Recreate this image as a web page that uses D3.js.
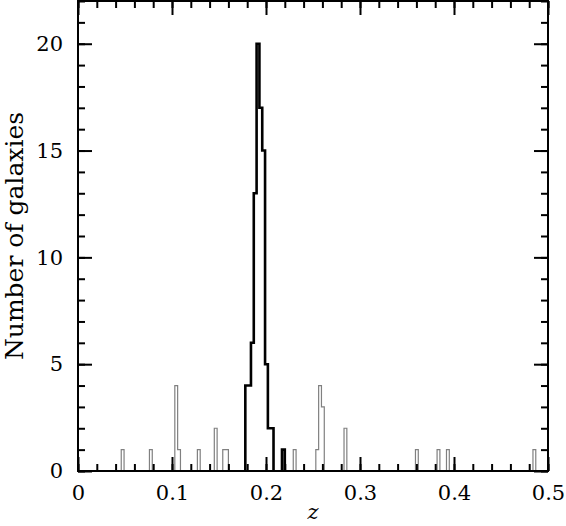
<!DOCTYPE html>
<html>
<head>
<meta charset="utf-8">
<script src="https://cdn.jsdelivr.net/npm/d3@7"></script>
<style>
  body { margin: 0; background: #fff; }
</style>
</head>
<body>
<div id="chart"></div>
<script>
// histogram data (bin left edges in z, counts)
var binWidth = 0.003;
var clusterBinStart = [0.178, 0.181, 0.184, 0.187, 0.190, 0.193, 0.196, 0.199, 0.202, 0.205, 0.217];
var clusterCounts   = [4, 4, 6, 13, 20, 17, 15, 5, 2, 2, 1];
var fieldBinStart = [0.046, 0.076, 0.103, 0.106, 0.127, 0.145, 0.154, 0.157, 0.229,
                     0.253, 0.256, 0.259, 0.283, 0.359, 0.382, 0.392, 0.484];
var fieldCounts   = [1, 1, 4, 1, 1, 2, 1, 1, 1, 1, 4, 3, 2, 1, 1, 1, 1];

var xTickValues = [0, 0.1, 0.2, 0.3, 0.4, 0.5];
var xTickLabels = ["0", "0.1", "0.2", "0.3", "0.4", "0.5"];
var yTickValues = [0, 5, 10, 15, 20];
var yTickLabels = ["0", "5", "10", "15", "20"];

var width = 566, height = 526;
var margin = {top: 1, left: 78, right: 18, bottom: 55};
var innerW = width - margin.left - margin.right,
    innerH = height - margin.top - margin.bottom;
var font = "'DejaVu Serif', serif";

var svg = d3.select("#chart").append("svg")
    .attr("width", width)
    .attr("height", height);
var g = svg.append("g")
    .attr("transform", "translate(" + margin.left + "," + margin.top + ")");

var x = d3.scaleLinear().domain([0, 0.5]).range([0, innerW]);
var y = d3.scaleLinear().domain([0, 22]).range([innerH, 0]);

// split bins into contiguous runs and turn each run into a step outline
function stepRuns(starts, counts) {
    var runs = [], cur = null, prevEnd = null;
    starts.forEach(function(s, i) {
        if (prevEnd === null || Math.abs(s - prevEnd) > 1e-6) {
            if (cur) { cur.push([prevEnd, 0]); runs.push(cur); }
            cur = [[s, 0]];
        }
        cur.push([s, counts[i]]);
        cur.push([s + binWidth, counts[i]]);
        prevEnd = s + binWidth;
    });
    if (cur) { cur.push([prevEnd, 0]); runs.push(cur); }
    return runs;
}

var line = d3.line()
    .x(function(d) { return x(d[0]); })
    .y(function(d) { return y(d[1]); });

g.selectAll(".field")
    .data(stepRuns(fieldBinStart, fieldCounts))
    .enter().append("path")
    .attr("class", "field")
    .attr("d", line)
    .attr("fill", "none")
    .attr("stroke", "#808080")
    .attr("stroke-width", 1.2);

g.selectAll(".cluster")
    .data(stepRuns(clusterBinStart, clusterCounts))
    .enter().append("path")
    .attr("class", "cluster")
    .attr("d", line)
    .attr("fill", "none")
    .attr("stroke", "#000")
    .attr("stroke-width", 2.6)
    .attr("stroke-linejoin", "miter");

// ticks on all four sides, pointing inwards
var xMinor = d3.range(0, 0.5001, 0.02);
var yMinor = d3.range(0, 22.001, 1);

function styleAxis(sel) {
    sel.select(".domain").remove();
    sel.selectAll("line").attr("stroke", "#000").attr("stroke-width", 2);
    sel.attr("font-family", font).attr("font-size", 21);
    sel.selectAll("text").attr("fill", "#000");
}

g.append("g").attr("transform", "translate(0," + innerH + ")")
    .call(d3.axisBottom(x).tickValues(xMinor).tickSize(-7).tickFormat(""))
    .call(styleAxis);
g.append("g").attr("transform", "translate(0," + innerH + ")")
    .call(d3.axisBottom(x).tickValues(xTickValues).tickSize(-14).tickPadding(14)
        .tickFormat(function(d, i) { return xTickLabels[i]; }))
    .call(styleAxis);
g.append("g")
    .call(d3.axisTop(x).tickValues(xMinor).tickSize(-7).tickFormat(""))
    .call(styleAxis);
g.append("g")
    .call(d3.axisTop(x).tickValues(xTickValues).tickSize(-14).tickFormat(""))
    .call(styleAxis);

g.append("g")
    .call(d3.axisLeft(y).tickValues(yMinor).tickSize(-7).tickFormat(""))
    .call(styleAxis);
g.append("g")
    .call(d3.axisLeft(y).tickValues(yTickValues).tickSize(-14).tickPadding(15)
        .tickFormat(function(d, i) { return yTickLabels[i]; }))
    .call(styleAxis);
g.append("g").attr("transform", "translate(" + innerW + ",0)")
    .call(d3.axisRight(y).tickValues(yMinor).tickSize(-7).tickFormat(""))
    .call(styleAxis);
g.append("g").attr("transform", "translate(" + innerW + ",0)")
    .call(d3.axisRight(y).tickValues(yTickValues).tickSize(-14).tickFormat(""))
    .call(styleAxis);

// frame
g.append("rect")
    .attr("x", 0).attr("y", 0)
    .attr("width", innerW).attr("height", innerH)
    .attr("fill", "none")
    .attr("stroke", "#000")
    .attr("stroke-width", 2);

// axis titles
svg.append("text")
    .attr("x", margin.left + innerW / 2)
    .attr("y", 519)
    .attr("text-anchor", "middle")
    .attr("font-family", font)
    .attr("font-style", "italic")
    .attr("font-size", 21)
    .text("z");

svg.append("text")
    .attr("transform", "translate(23," + (margin.top + innerH / 2) + ") rotate(-90)")
    .attr("text-anchor", "middle")
    .attr("font-family", font)
    .attr("font-size", 25)
    .text("Number of galaxies");
</script>
</body>
</html>
